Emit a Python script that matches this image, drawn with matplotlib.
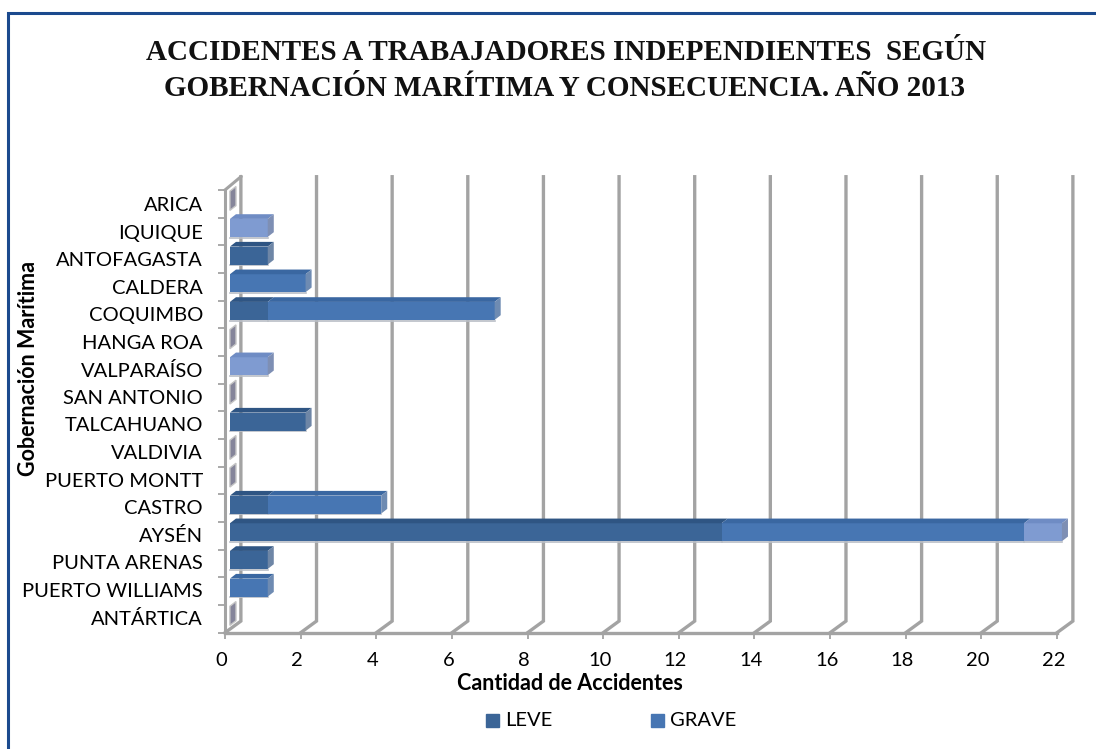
import matplotlib
matplotlib.use("Agg")
import matplotlib.pyplot as plt
from matplotlib.transforms import ScaledTranslation
import numpy as np

# ── Data ─────────────────────────────────────────────────────────────
puertos = ["ARICA", "IQUIQUE", "ANTOFAGASTA", "CALDERA", "COQUIMBO", "HANGA ROA",
           "VALPARAÍSO", "SAN ANTONIO", "TALCAHUANO", "VALDIVIA", "PUERTO MONTT",
           "CASTRO", "AYSÉN", "PUNTA ARENAS", "PUERTO WILLIAMS", "ANTÁRTICA"]
leve  = [0, 0, 1, 0, 1, 0, 0, 0, 2, 0, 0, 1, 13, 1, 0, 0]
grave = [0, 0, 0, 2, 6, 0, 0, 0, 0, 0, 0, 3, 8, 0, 1, 0]
otro  = [0, 1, 0, 0, 0, 0, 1, 0, 0, 0, 0, 0, 1, 0, 0, 0]
xticks = list(range(0, 24, 2))

# ── Colours ──────────────────────────────────────────────────────────
C_LEVE  = "#3B6597"
C_GRAVE = "#4776B3"
C_OTRO  = "#7F9BD1"
TOP     = {C_LEVE: "#2F5583", C_GRAVE: "#3A67A1", C_OTRO: "#6F8CC4"}
SIDE    = {C_LEVE: "#6E86A6", C_GRAVE: "#6E8BB2", C_OTRO: "#7E8FB4"}
WALL    = "#A3A3A3"
FRAME   = "#1B4A8E"

W, H = 1096, 749
fig = plt.figure(figsize=(W / 100, H / 100), dpi=100, facecolor="white")

# axes box = floor front edge, pixel positions
x0, x1, ytop, ybot = 225, 1057, 190, 632.7
ax = fig.add_axes([x0 / W, 1 - ybot / H, (x1 - x0) / W, (ybot - ytop) / H])
ax.set_xlim(0, 22)
ax.set_ylim(15.5, -0.5)
ax.patch.set_alpha(0)
for s in ax.spines.values():
    s.set_visible(False)

# depth of the fake 3D, in data units
dx, dy = 0.42, 0.42
bar_dx, bar_dy = 0.16, 0.17   # depth of a bar
off_x, off_y = 0.13, -0.13    # bar front face offset from the floor edge
bar_h = 0.65
lo, hi = 15.5, -0.5
wall_top = hi - 0.48

# floor and walls
ax.plot([0, 22], [lo, lo], color=WALL, lw=2.4, clip_on=False, zorder=1)
for t in xticks:
    ax.plot([t, t + dx, t + dx], [lo, lo - dy, wall_top], color=WALL, lw=2.4,
            clip_on=False, zorder=1, solid_joinstyle="miter")
ax.plot([0, 0], [lo, hi], color=WALL, lw=2.2, clip_on=False, zorder=1)
ax.plot([0, dx], [hi, wall_top], color=WALL, lw=2.2, clip_on=False, zorder=1)

y = np.arange(len(puertos))
yb = y + off_y


def box(left, width, color, zorder):
    # front face goes through barh, top and side follow it
    ax.barh(yb, width, left=left + off_x, height=bar_h, color=color,
            clip_on=False, zorder=zorder, linewidth=0)
    for yi, l, w in zip(yb, left, width):
        if w == 0:
            continue
        t = yi - bar_h / 2
        b = yi + bar_h / 2
        ax.fill([l + off_x, l + w + off_x, l + w + off_x + bar_dx, l + off_x + bar_dx],
                [t, t, t - bar_dy, t - bar_dy],
                color=TOP[color], lw=0, clip_on=False, zorder=zorder)
        ax.plot([l + off_x, l + w + off_x], [b + 0.03, b + 0.03], color="#B9BEC6", lw=1.2,
                clip_on=False, zorder=zorder - 0.5)


leve_a, grave_a, otro_a = np.array(leve), np.array(grave), np.array(otro)
total = leve_a + grave_a + otro_a
box(np.zeros(16), leve_a, C_LEVE, 3)
box(leve_a.astype(float), grave_a, C_GRAVE, 3)
box((leve_a + grave_a).astype(float), otro_a, C_OTRO, 3)

# end caps, coloured after the last series of each bar
for yi, tot, le, gr in zip(yb, total, leve_a, grave_a):
    t = yi - bar_h / 2
    b = yi + bar_h / 2
    if tot == 0:
        # empty bar: only a thin grey slab stays
        ax.fill([off_x, off_x, off_x + bar_dx, off_x + bar_dx],
                [b + 0.04, t, t - bar_dy, b - bar_dy + 0.04],
                facecolor="#85859A", edgecolor="#C4C4C4", lw=1.0, clip_on=False, zorder=4)
        continue
    last = C_OTRO if tot > le + gr else (C_GRAVE if gr > 0 else C_LEVE)
    e = tot + off_x
    ax.fill([e, e + bar_dx, e + bar_dx, e], [t, t - bar_dy, b - bar_dy, b],
            color=SIDE[last], lw=0, clip_on=False, zorder=4)

# ticks
ax.set_xticks(xticks)
ax.set_xticklabels([str(t) for t in xticks], fontsize=14.5, family="Lato", color="black")
ax.tick_params(axis="x", length=4, width=1.3, color=WALL, pad=10)
shift = ScaledTranslation(-3.5 / 100, 0, fig.dpi_scale_trans)
for lab in ax.get_xticklabels():
    lab.set_transform(lab.get_transform() + shift)
ax.set_yticks(np.arange(-0.5, 16, 1))
ax.set_yticklabels([])
ax.tick_params(axis="y", length=5, width=1.3, color=WALL)
for yi, name in zip(y, puertos):
    ax.text(-0.58, yi + 0.06 - 0.004 * yi, name, ha="right", va="center", fontsize=14.5,
            family="Lato", color="black", clip_on=False)

# texts in pixel positions of the figure
fig.text(566 / W, 1 - 53 / H, "ACCIDENTES A TRABAJADORES INDEPENDIENTES  SEGÚN",
         ha="center", va="center", fontsize=21, fontweight="bold",
         family="Liberation Serif", color="#111111")
fig.text(564.5 / W, 1 - 88 / H, "GOBERNACIÓN MARÍTIMA Y CONSECUENCIA. AÑO 2013",
         ha="center", va="center", fontsize=21, fontweight="bold",
         family="Liberation Serif", color="#111111")
fig.text(29 / W, 1 - 368 / H, "Gobernación Marítima", rotation=90, ha="center", va="center",
         fontsize=15.5, fontweight="bold", family="Lato")
fig.text(570 / W, 1 - 684 / H, "Cantidad de Accidentes", ha="center", va="center",
         fontsize=15.5, fontweight="bold", family="Lato")

# legend
for px, col, txt in [(486, C_LEVE, "LEVE"), (651, C_GRAVE, "GRAVE")]:
    fig.patches.append(plt.Rectangle((px / W, 1 - 727 / H), 13 / W, 13 / H, color=col,
                                     transform=fig.transFigure))
    fig.text((px + 19) / W, 1 - 721 / H, txt, ha="left", va="center", fontsize=14.5, family="Lato")

# frame: only left and top are visible
fig.add_artist(plt.Line2D([8 / W, 8 / W, 1], [0, 1 - 12.5 / H, 1 - 12.5 / H], color=FRAME,
                          lw=2.2, transform=fig.transFigure, solid_joinstyle="miter"))

fig.savefig("out.png", dpi=100, facecolor="white")
